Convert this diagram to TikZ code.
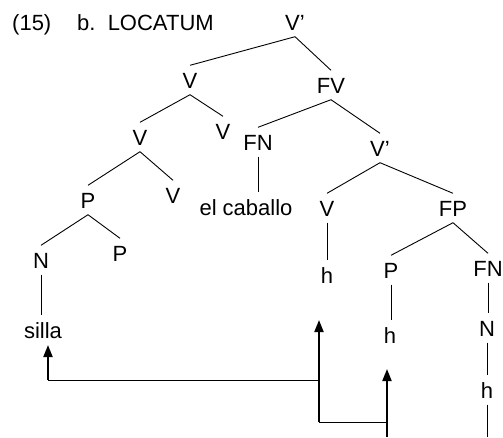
\documentclass[tikz,border=0pt]{standalone}
\usepackage{fontspec}
\setmainfont{Liberation Sans}
\usepackage{tikz}
\usetikzlibrary{arrows.meta}

\begin{document}
\begin{tikzpicture}[x=1pt, y=-1pt,
  lbl/.style={inner xsep=0pt, inner ysep=6.5pt, text height=16pt, text depth=0pt,
    font=\fontsize{22}{26}\selectfont},
  branch/.style={line width=0.9pt},
  link/.style={line width=1pt},
  mov/.style={-{Triangle[width=9pt,length=12pt]}, line width=2pt}]
\useasboundingbox (0,0) rectangle (503,437);

\node[lbl, anchor=west] (num) at (12,22) {(15)};
\node[lbl, anchor=west] (title) at (77,22) {b.\ \ LOCATUM};

% the tree
\node[lbl] (vp1) at (295,22) {V'};
\node[lbl] (v1) at (190,80) {V};
\node[lbl] (fv) at (331,85) {FV};
\node[lbl] (v2) at (140,137) {V};
\node[lbl] (v3) at (223,131) {V};
\node[lbl] (fn1) at (258,142) {FN};
\node[lbl] (vp2) at (380,148) {V'};
\node[lbl] (p1) at (88,200) {P};
\node[lbl] (v5) at (173,195) {V};
\node[lbl] (cab) at (246,207) {el caballo};
\node[lbl] (v4) at (327,208) {V};
\node[lbl] (fp) at (453,208) {FP};
\node[lbl] (n1) at (41,260) {N};
\node[lbl] (p2) at (120,253) {P};
\node[lbl] (h1) at (327,275) {h};
\node[lbl] (p3) at (391,270) {P};
\node[lbl] (fn2) at (488,268) {FN};
\node[lbl] (silla) at (43,330) {silla};
\node[lbl] (h2) at (390,335) {h};
\node[lbl] (n2) at (487,328) {N};
\node[lbl] (h3) at (487,390) {h};

\foreach \a/\b in {vp1/v1, vp1/fv, v1/v2, v1/v3, v2/p1, v2/v5, p1/n1, p1/p2,
                   fv/fn1, fv/vp2, vp2/v4, vp2/fp, fp/p3, fp/fn2}
{
	\draw[branch] (\a.south) -- (\b.north);
}
\foreach \a/\b in {n1/silla, fn1/cab, v4/h1, p3/h2, fn2/n2, n2/h3}
{
	\draw[branch] (\a.south) -- (\a.south |- \b.north);
}
\coordinate (bot) at (487,437);
\draw[branch] (h3.south) -- (bot);

% movement arrows
\coordinate (tsilla) at (48,345);
\coordinate (asilla) at (48,380);
\coordinate (jv) at (319,380);
\coordinate (tv) at (319,320);
\coordinate (av) at (319,422);
\coordinate (ap) at (387,422);
\coordinate (tp) at (387,369);
\coordinate (sp) at (387,437);

\draw[mov] (asilla) -- (tsilla);
\draw[link] (asilla) -- (jv);
\draw[mov] (av) -- (tv);
\draw[link] (av) -- (ap);
\draw[mov] (sp) -- (tp);
\end{tikzpicture}
\end{document}
